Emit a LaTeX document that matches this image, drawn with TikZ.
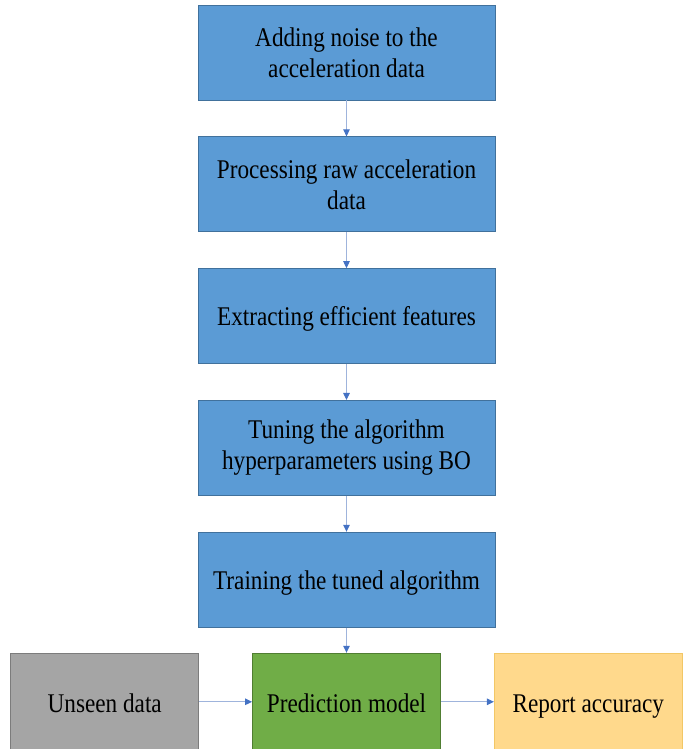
\documentclass[tikz,border=0pt]{standalone}
\usepackage{fontspec}
\setmainfont{Liberation Serif}[FakeStretch=0.86]
\usepackage{tikz}
\usetikzlibrary{positioning,arrows.meta}

\definecolor{stepblue}{HTML}{5B9BD5}
\definecolor{stepblueline}{HTML}{41719C}
\definecolor{unseengray}{HTML}{A5A5A5}
\definecolor{unseenline}{HTML}{7C7C7C}
\definecolor{modelgreen}{HTML}{70AD47}
\definecolor{modelline}{HTML}{507E32}
\definecolor{reportgold}{HTML}{FFD98C}
\definecolor{reportline}{HTML}{F2C766}
\definecolor{flowline}{HTML}{9FB4DC}
\definecolor{flowtip}{HTML}{4472C4}

\begin{document}
\begin{tikzpicture}[x=1pt,y=1pt,
  font=\fontsize{27}{31}\selectfont,
  stepbox/.style={draw=stepblueline,fill=stepblue,line width=0.8pt,
    minimum width=297pt,minimum height=95pt,align=center,inner sep=0pt},
  rowbox/.style={line width=0.8pt,minimum width=188pt,minimum height=100pt,
    align=center,inner sep=0pt},
  flow/.style={draw=flowline,line width=0.9pt,
    -{Triangle[length=7pt,width=6.5pt,color=flowtip]}},
  node distance=36pt]
\useasboundingbox (0,0) rectangle (688,749);
\clip (0,0) rectangle (688,749);

% main steps
\node[stepbox] (noise) at (346.5,696.5) {Adding noise to the\\acceleration data};
\node[stepbox,below=of noise] (raw) {Processing raw acceleration\\data};
\node[stepbox,below=of raw,text depth=0pt] (feat) {Extracting efficient features};
\node[stepbox,below=of feat] (tune) {Tuning the algorithm\\hyperparameters using BO};
\node[stepbox,below=of tune,text depth=0pt] (train) {Training the tuned algorithm};

% bottom row
\node[rowbox,draw=modelline,fill=modelgreen,below=25.2pt of train] (model) {};
\node[rowbox,draw=unseenline,fill=unseengray,left=53pt of model] (unseen) {};
\node[rowbox,draw=reportline,fill=reportgold,right=53pt of model] (report) {};
\coordinate (mid) at ([yshift=-49pt]model.north);
\node[anchor=base] (modeltext) at ([yshift=-11pt]mid) {Prediction model};
\node[anchor=base] (unseentext) at (unseen |- modeltext.base) {Unseen data};
\node[anchor=base] (reporttext) at (report |- modeltext.base) {Report accuracy};

% connectors
\draw[flow] (noise) -- (raw);
\draw[flow] (raw) -- (feat);
\draw[flow] (feat) -- (tune);
\draw[flow] (tune) -- (train);
\draw[flow] (train) -- (model);
\draw[flow] (unseen.east |- mid) -- (model.west |- mid);
\draw[flow] (model.east |- mid) -- (report.west |- mid);
\end{tikzpicture}
\end{document}
